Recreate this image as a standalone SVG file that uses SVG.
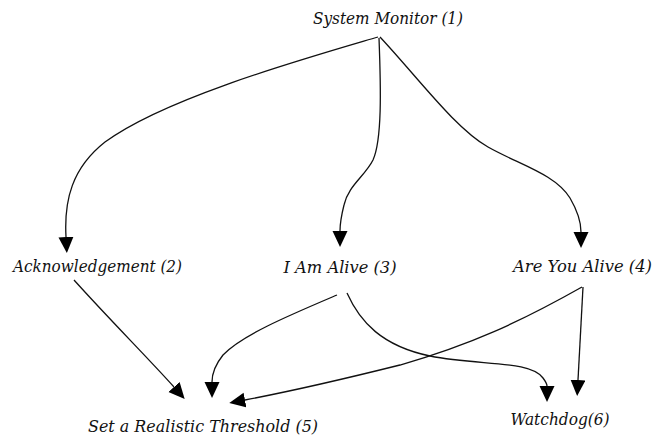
<svg xmlns="http://www.w3.org/2000/svg" width="665" height="438" viewBox="0 0 665 438">
<style>
  .lbl { font-family: "DejaVu Serif", "Liberation Serif", serif; font-style: italic; font-size: 16px; fill: #111; text-anchor: middle; }
  .edge { fill: none; stroke: #111; stroke-width: 1.3; marker-end: url(#arr); }
</style>
<defs>
  <marker id="arr" markerUnits="userSpaceOnUse" markerWidth="16" markerHeight="16" refX="0" refY="7.5" orient="auto">
    <path d="M0,0 L16,7.5 L0,15 z" fill="#000"/>
  </marker>
</defs>
<rect width="665" height="438" fill="#fff"/>
<g id="connectors">
  <path class="edge" d="M378,37 C300,60 165,98 105,142 C72,168 64,200 66,237"/>
  <path class="edge" d="M379,38 C381,90 382,140 373,160 C365,176 348,186 344,205 C341,217 340,225 340,231"/>
  <path class="edge" d="M380,37 C420,80 455,128 488,147 C520,165 555,174 570,198 C577,210 581,222 581,232"/>
  <path class="edge" d="M74,280 C110,320 148,358 174,387"/>
  <path class="edge" d="M337,295 C290,315 242,335 223,355 C215,365 212,374 212,382"/>
  <path class="edge" d="M582,287 C520,322 470,345 400,365 C340,380 292,391 245,400"/>
  <path class="edge" d="M347,293 C360,322 382,346 430,356 C480,366 530,360 543,378 C546,382 547,384 547,386"/>
  <path class="edge" d="M583,287 L578,380"/>
</g>
<g id="n1"><text class="lbl" x="388" y="24" textLength="150" lengthAdjust="spacingAndGlyphs">System Monitor (1)</text></g>
<g id="n2"><text class="lbl" x="97.5" y="272" textLength="169" lengthAdjust="spacingAndGlyphs">Acknowledgement (2)</text></g>
<g id="n3"><text class="lbl" x="340" y="273" textLength="113" lengthAdjust="spacingAndGlyphs">I Am Alive (3)</text></g>
<g id="n4"><text class="lbl" x="582.5" y="272" textLength="139" lengthAdjust="spacingAndGlyphs">Are You Alive (4)</text></g>
<g id="n5"><text class="lbl" x="203" y="432" textLength="230" lengthAdjust="spacingAndGlyphs">Set a Realistic Threshold (5)</text></g>
<g id="n6"><text class="lbl" x="560" y="425" textLength="99" lengthAdjust="spacingAndGlyphs">Watchdog(6)</text></g>
</svg>
